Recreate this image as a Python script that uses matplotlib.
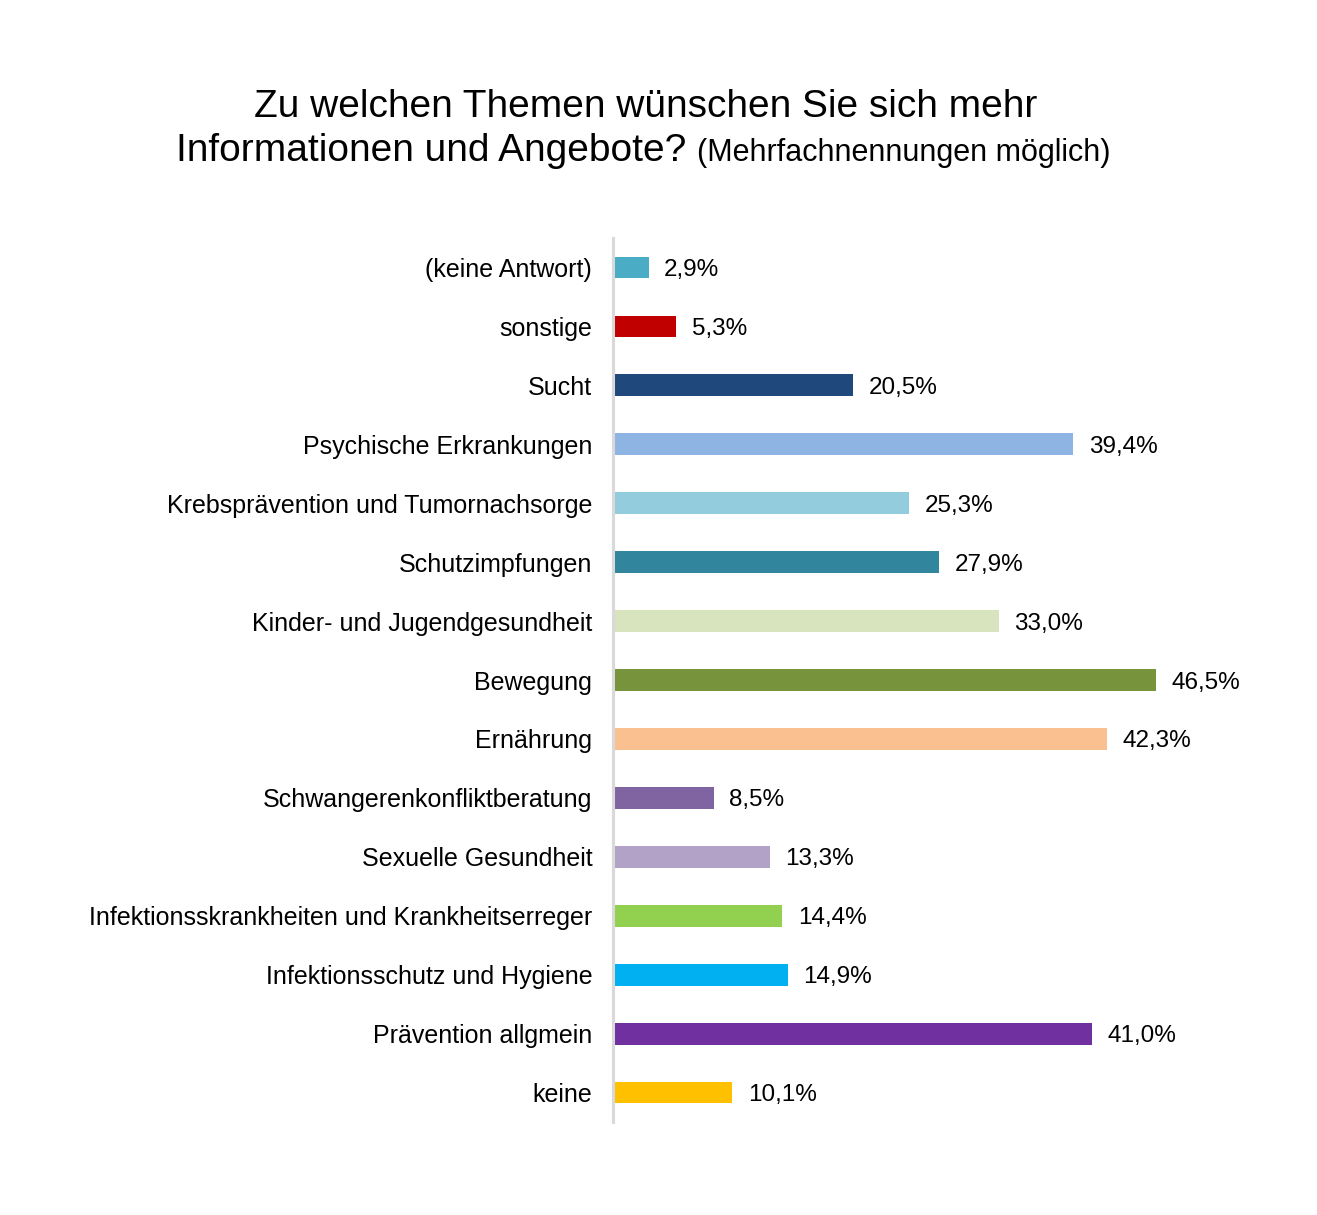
import matplotlib.pyplot as plt

plt.rcParams['font.family'] = ['Liberation Sans', 'DejaVu Sans']

categories = [
    "(keine Antwort)",
    "sonstige",
    "Sucht",
    "Psychische Erkrankungen",
    "Krebsprävention und Tumornachsorge",
    "Schutzimpfungen",
    "Kinder- und Jugendgesundheit",
    "Bewegung",
    "Ernährung",
    "Schwangerenkonfliktberatung",
    "Sexuelle Gesundheit",
    "Infektionsskrankheiten und Krankheitserreger",
    "Infektionsschutz und Hygiene",
    "Prävention allgmein",
    "keine",
]
values = [2.9, 5.3, 20.5, 39.4, 25.3, 27.9, 33.0, 46.5, 42.3, 8.5, 13.3, 14.4, 14.9, 41.0, 10.1]
colors = ["#4BACC6", "#C00000", "#1F497D", "#8EB4E3", "#93CDDD", "#31859C", "#D7E4BD",
          "#77933C", "#FAC090", "#8064A2", "#B3A2C7", "#92D050", "#00B0F0", "#7030A0", "#FFC000"]

fig = plt.figure(figsize=(13.17, 12.15), dpi=100)
ax = fig.add_axes([0.4655, 0.0765, 0.486, 0.7276])

ypos = list(range(len(categories)))
ax.barh(ypos, values, height=0.37, color=colors, left=0.15)
for y, v in zip(ypos, values):
    ax.annotate(f"{v:.1f}%".replace(".", ","), xy=(v + 0.15, y), xytext=(11, 0),
                textcoords="offset points", va="center_baseline", ha="left", fontsize=17.5)

ax.set_ylim(len(categories) - 0.5, -0.5)
ax.set_xlim(0, 55)
ax.set_yticks(ypos)
ax.set_yticklabels(categories, fontsize=18, va="center_baseline")
ax.tick_params(axis="y", length=0, pad=15)
ax.set_xticks([])
for s in ["top", "right", "bottom"]:
    ax.spines[s].set_visible(False)
ax.spines["left"].set_color("#D9D9D9")
ax.spines["left"].set_linewidth(2.2)

fig.text(0.4905, 0.912, "Zu welchen Themen wünschen Sie sich mehr", ha="center", va="center",
         fontsize=28)
fig.text(0.1336, 0.876, "Informationen und Angebote?", ha="left", va="center", fontsize=28)
fig.text(0.529, 0.874, "(Mehrfachnennungen möglich)", ha="left", va="center", fontsize=22)

fig.savefig("out.png", dpi=100)
